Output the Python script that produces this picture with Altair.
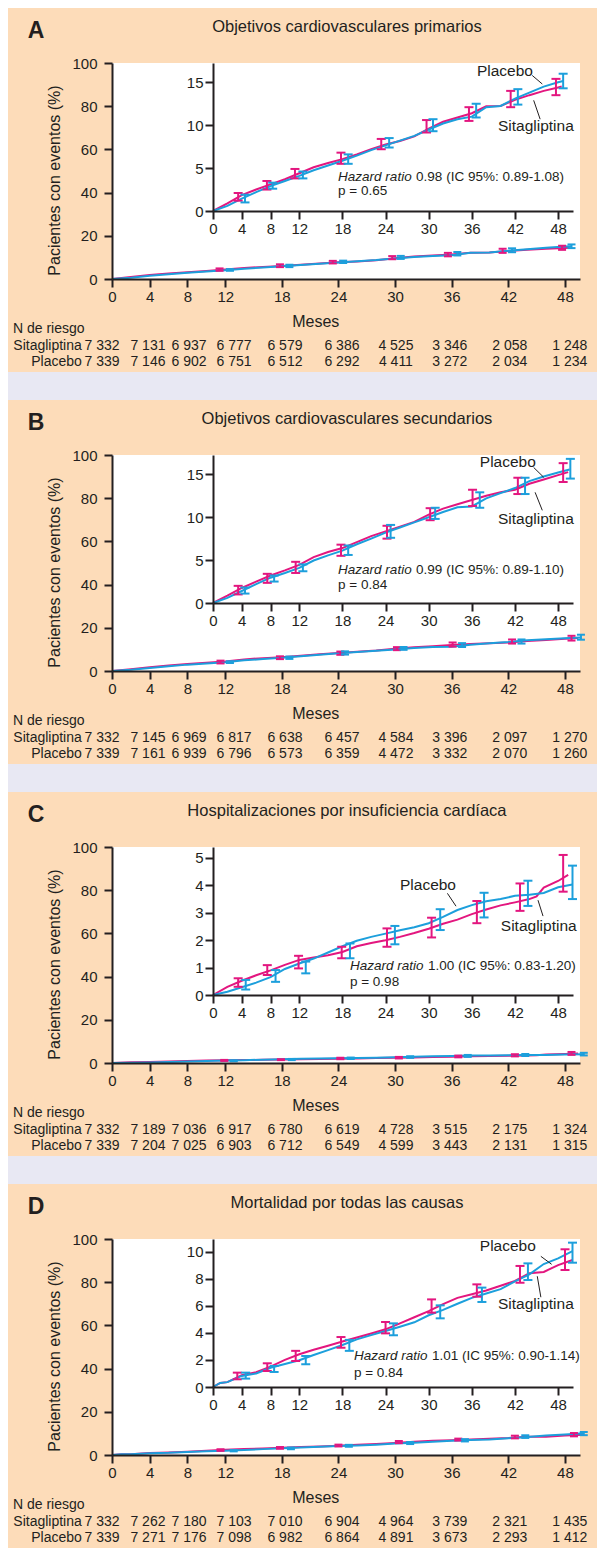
import altair as alt
import pandas as pd

PINK = "#e3167f"
BLUE = "#1c9fdc"
PEACH = "#fddcb9"
LAVENDER = "#e8e8f3"
INK = "#231f20"
FONT = "Liberation Sans"

MONTH_TICKS = [0, 4, 8, 12, 18, 24, 30, 36, 42, 48]
MAIN_Y_TICKS = [0, 20, 40, 60, 80, 100]
SERIES = ["Sitagliptina", "Placebo"]

# ---------------- Panel A ----------------
A_LETTER = "A"
A_TITLE = "Objetivos cardiovasculares primarios"
A_HR = "0.98 (IC 95%: 0.89-1.08)"
A_P = "p = 0.65"
A_SITA_M = [0, 2, 4, 6, 8, 10, 12, 14, 16, 18, 20, 22, 24, 26, 28, 30, 32, 34, 36, 38, 40, 42, 44, 46, 48, 48.5]
A_SITA_V = [0, 0.9, 1.85, 2.5, 3.1, 3.7, 4.4, 5.1, 5.6, 6.05, 6.6, 7.2, 7.75, 8.15, 8.7, 9.6, 10.4, 10.9, 11.4, 12.2, 12.25, 12.95, 13.5, 14.0, 14.4, 14.5]
A_PLAC_M = [0, 2, 4, 6, 8, 10, 12, 14, 16, 18, 20, 22, 24, 26, 28, 30, 32, 34, 36, 38, 40, 42, 44, 46, 48, 48.7]
A_PLAC_V = [0, 0.6, 1.45, 2.2, 2.9, 3.5, 4.1, 4.75, 5.3, 5.85, 6.45, 7.1, 7.65, 8.2, 8.75, 9.5, 10.2, 10.7, 11.0, 12.1, 12.25, 13.1, 13.8, 14.5, 15.0, 15.15]
A_SITA_BAR_M = [3.5, 7.5, 11.4, 17.8, 23.4, 29.7, 35.6, 41.4, 47.7]
A_SITA_LO = [1.2, 2.5, 3.8, 5.5, 7.2, 9.15, 10.5, 12.1, 13.5]
A_SITA_HI = [2.1, 3.5, 4.9, 6.8, 8.4, 10.6, 12.1, 14.0, 15.4]
A_PLAC_BAR_M = [4.45, 8.3, 12.5, 18.8, 24.5, 30.6, 36.6, 42.4, 48.7]
A_PLAC_LO = [1.0, 2.6, 3.8, 5.5, 7.4, 9.3, 10.9, 12.4, 14.3]
A_PLAC_HI = [1.9, 3.3, 4.6, 6.6, 8.5, 10.7, 12.5, 14.2, 16.0]
A_RISK_SITA = ["7 332", "7 131", "6 937", "6 777", "6 579", "6 386", "4 525", "3 346", "2 058", "1 248"]
A_RISK_PLAC = ["7 339", "7 146", "6 902", "6 751", "6 512", "6 292", "4 411", "3 272", "2 034", "1 234"]
A_INSET_TICKS = [0, 5, 10, 15]

# ---------------- Panel B ----------------
B_LETTER = "B"
B_TITLE = "Objetivos cardiovasculares secundarios"
B_HR = "0.99 (IC 95%: 0.89-1.10)"
B_P = "p = 0.84"
B_SITA_M = [0, 2, 4, 6, 8, 10, 12, 14, 16, 18, 20, 22, 24, 26, 28, 30, 32, 34, 36, 38, 40, 42, 44, 46, 48, 49.4]
B_SITA_V = [0, 0.85, 1.75, 2.5, 3.2, 3.8, 4.45, 5.35, 5.95, 6.4, 7.1, 7.8, 8.35, 8.9, 9.45, 10.3, 11.0, 11.5, 12.0, 12.5, 12.9, 13.2, 13.9, 14.4, 14.9, 15.25]
B_PLAC_M = [0, 2, 4, 6, 8, 10, 12, 14, 16, 18, 20, 22, 24, 26, 28, 30, 32, 34, 36, 38, 40, 42, 44, 46, 48, 49.6]
B_PLAC_V = [0, 0.6, 1.4, 2.2, 2.95, 3.5, 4.1, 4.95, 5.55, 6.1, 6.85, 7.5, 8.2, 8.8, 9.4, 10.0, 10.6, 11.15, 11.25, 12.2, 12.8, 13.4, 14.2, 14.75, 15.2, 15.55]
B_SITA_BAR_M = [3.5, 7.55, 11.5, 17.8, 24.2, 30.2, 36.1, 42.4, 48.7]
B_SITA_LO = [1.0, 2.35, 3.5, 5.5, 7.5, 9.65, 11.3, 12.7, 14.1]
B_SITA_HI = [2.0, 3.4, 4.8, 6.8, 9.0, 11.05, 13.2, 14.6, 16.3]
B_PLAC_BAR_M = [4.45, 8.5, 12.5, 18.8, 24.7, 30.9, 37.1, 43.4, 49.7]
B_PLAC_LO = [1.1, 2.5, 3.7, 5.6, 7.6, 9.8, 11.1, 12.7, 14.5]
B_PLAC_HI = [1.8, 3.2, 4.5, 6.7, 9.1, 11.1, 12.9, 14.6, 16.8]
B_RISK_SITA = ["7 332", "7 145", "6 969", "6 817", "6 638", "6 457", "4 584", "3 396", "2 097", "1 270"]
B_RISK_PLAC = ["7 339", "7 161", "6 939", "6 796", "6 573", "6 359", "4 472", "3 332", "2 070", "1 260"]
B_INSET_TICKS = [0, 5, 10, 15]

# ---------------- Panel C ----------------
C_LETTER = "C"
C_TITLE = "Hospitalizaciones por insuficiencia cardíaca"
C_HR = "1.00 (IC 95%: 0.83-1.20)"
C_P = "p = 0.98"
C_SITA_M = [0, 2, 4, 6, 8, 10, 12, 14, 16, 18, 20, 22, 24, 26, 28, 30, 32, 34, 36, 38, 40, 42, 44, 45, 46, 48, 49.4]
C_SITA_V = [0, 0.3, 0.52, 0.72, 0.9, 1.1, 1.28, 1.37, 1.45, 1.57, 1.78, 1.9, 2.0, 2.12, 2.26, 2.42, 2.6, 2.75, 2.95, 3.12, 3.27, 3.38, 3.5, 3.6, 3.92, 4.16, 4.38]
C_PLAC_M = [0, 2, 4, 6, 8, 10, 12, 14, 16, 18, 20, 22, 24, 26, 28, 30, 32, 34, 36, 38, 40, 42, 44, 46, 48, 50]
C_PLAC_V = [0, 0.12, 0.28, 0.45, 0.65, 0.95, 1.15, 1.33, 1.55, 1.78, 1.98, 2.12, 2.24, 2.36, 2.47, 2.62, 2.85, 3.1, 3.28, 3.42, 3.5, 3.62, 3.66, 3.72, 3.93, 4.03]
C_SITA_BAR_M = [3.5, 7.55, 11.9, 17.9, 24.2, 30.4, 36.7, 42.7, 48.7]
C_SITA_LO = [0.3, 0.73, 0.97, 1.34, 1.76, 2.1, 2.62, 3.07, 3.77]
C_SITA_HI = [0.61, 1.09, 1.43, 1.76, 2.43, 2.82, 3.43, 4.07, 5.11]
C_PLAC_BAR_M = [4.55, 8.7, 12.9, 19.05, 25.3, 31.6, 37.7, 43.8, 50.0]
C_PLAC_LO = [0.2, 0.48, 0.79, 1.34, 1.85, 2.37, 2.83, 3.25, 3.5]
C_PLAC_HI = [0.55, 0.91, 1.22, 1.88, 2.52, 3.13, 3.73, 4.17, 4.72]
C_RISK_SITA = ["7 332", "7 189", "7 036", "6 917", "6 780", "6 619", "4 728", "3 515", "2 175", "1 324"]
C_RISK_PLAC = ["7 339", "7 204", "7 025", "6 903", "6 712", "6 549", "4 599", "3 443", "2 131", "1 315"]
C_INSET_TICKS = [0, 1, 2, 3, 4, 5]

# ---------------- Panel D ----------------
D_LETTER = "D"
D_TITLE = "Mortalidad por todas las causas"
D_HR = "1.01 (IC 95%: 0.90-1.14)"
D_P = "p = 0.84"
D_SITA_M = [0, 1, 2, 4, 6, 8, 10, 12, 14, 16, 18, 20, 22, 24, 26, 28, 30, 32, 34, 36, 38, 40, 42, 44, 46, 48, 50]
D_SITA_V = [0, 0.3, 0.36, 0.88, 1.1, 1.5, 2.0, 2.42, 2.75, 3.05, 3.36, 3.66, 3.95, 4.26, 4.7, 5.15, 5.6, 6.12, 6.58, 6.85, 7.13, 7.48, 7.83, 8.4, 8.5, 9.0, 9.38]
D_PLAC_M = [0, 1, 2, 4, 6, 8, 10, 12, 14, 16, 18, 20, 22, 24, 26, 28, 30, 32, 34, 36, 38, 40, 42, 44, 46, 48, 50]
D_PLAC_V = [0, 0.3, 0.36, 0.82, 1.0, 1.42, 1.7, 1.98, 2.36, 2.72, 3.1, 3.52, 3.83, 4.14, 4.45, 4.78, 5.3, 5.7, 6.15, 6.58, 6.9, 7.23, 7.8, 8.32, 9.08, 9.5, 10.03]
D_SITA_BAR_M = [3.38, 7.55, 11.5, 17.8, 24.0, 30.4, 36.7, 42.7, 48.96]
D_SITA_LO = [0.57, 1.18, 1.92, 2.9, 3.96, 5.49, 6.67, 7.7, 8.64]
D_SITA_HI = [1.06, 1.75, 2.67, 3.69, 4.8, 6.47, 7.58, 8.94, 10.17]
D_PLAC_BAR_M = [4.55, 8.5, 12.9, 18.96, 25.1, 31.6, 37.4, 43.8, 50.0]
D_PLAC_LO = [0.62, 1.11, 1.68, 2.67, 3.82, 5.07, 6.28, 7.9, 9.18]
D_PLAC_HI = [1.06, 1.55, 2.29, 3.48, 4.7, 6.03, 7.34, 9.13, 10.66]
D_RISK_SITA = ["7 332", "7 262", "7 180", "7 103", "7 010", "6 904", "4 964", "3 739", "2 321", "1 435"]
D_RISK_PLAC = ["7 339", "7 271", "7 176", "7 098", "6 982", "6 864", "4 891", "3 673", "2 293", "1 412"]
D_INSET_TICKS = [0, 2, 4, 6, 8, 10]

# ---------------- layout (pixels inside each panel) ----------------
PANEL_W, PANEL_H = 589, 364
MAIN_X_MAX = 49.6
INSET_X_MAX = 50.07
MAIN_X_RANGE = [104, 572]
MAIN_Y_RANGE = [271, 55]
INSET_X_RANGE = [205, 565]
INSET_Y_RANGE = [203, 55]
# typeset column anchors of the number-at-risk table, on the month axis
RISK_COL_POS = [-1.06, 3.81, 8.16, 12.93, 18.33, 24.37, 30.09, 35.81, 42.16, 48.52]

# annotation anchors, in inset data units
ANN = {
    "A": dict(ymax=17.25, plac=(40.6, 16.3), sita=(44.9, 9.9),
              plac_lead=(44.4, 15.8, 45.8, 14.8), sita_lead=(44.6, 12.9, 45.5, 10.7),
              hr=(17.4, 3.95), p=2.3),
    "B": dict(ymax=17.25, plac=(41.0, 16.4), sita=(44.9, 9.77),
              plac_lead=(44.6, 15.8, 46.0, 14.65), sita_lead=(44.8, 12.9, 45.8, 10.8),
              hr=(17.4, 3.9), p=2.15),
    "C": dict(ymax=5.4, plac=(29.9, 4.0), sita=(45.3, 2.5),
              plac_lead=(32.6, 3.71, 33.8, 3.24), sita_lead=(45.2, 3.46, 45.9, 2.88),
              hr=(19.05, 1.05), p=0.46),
    "D": dict(ymax=10.93, plac=(41.0, 10.4), sita=(44.9, 6.1),
              plac_lead=(45.6, 9.65, 47.1, 9.06), sita_lead=(45.1, 8.18, 45.6, 6.63),
              hr=(19.6, 2.27), p=1.01),
}


def axis(orient, offset, values, pad):
    return alt.Axis(orient=orient, offset=offset, values=values, labelPadding=pad,
                    domainColor=INK, domainWidth=2, tickColor=INK, tickWidth=2, tickSize=8,
                    labelFont=FONT, labelFontSize=15, labelColor=INK, grid=False,
                    title="", zindex=2, labelFlush=False, labelOverlap=False)


def txt(df, **kw):
    base = dict(font=FONT, color=INK, baseline="middle")
    base.update(kw)
    return alt.Chart(df).mark_text(**base)


def build_panel(key, letter, title, hr, pval, sm, sv, pm, pv,
                sbm, slo, shi, pbm, plo, phi, risk_s, risk_p, iticks):
    a = ANN[key]
    curves = pd.DataFrame({
        "m": sm + pm, "v": sv + pv,
        "g": [SERIES[0]] * len(sm) + [SERIES[1]] * len(pm),
    })
    bars = pd.DataFrame({
        "m": sbm + pbm, "lo": slo + plo, "hi": shi + phi,
        "g": [SERIES[0]] * len(sbm) + [SERIES[1]] * len(pbm),
    })
    main_bars = bars[bars["m"] >= 11]
    color = alt.Color("g:N", scale=alt.Scale(domain=SERIES, range=[PINK, BLUE]), legend=None)

    def mx():
        return alt.Scale(domain=[0, MAIN_X_MAX], range=MAIN_X_RANGE, nice=False, zero=False)

    def my():
        return alt.Scale(domain=[0, 100], range=MAIN_Y_RANGE, nice=False, zero=False)

    def ix():
        return alt.Scale(domain=[0, INSET_X_MAX], range=INSET_X_RANGE, nice=False, zero=False)

    def iy():
        return alt.Scale(domain=[0, a["ymax"]], range=INSET_Y_RANGE, nice=False, zero=False)

    def X(f, s, ax=None):
        return alt.X(f, scale=s, axis=ax)

    def Y(f, s, ax=None):
        return alt.Y(f, scale=s, axis=ax)

    layers = []
    # ---------- main plot ----------
    layers.append(alt.Chart(pd.DataFrame({"x0": [0], "x1": [MAIN_X_MAX], "y0": [0], "y1": [100]}))
                  .mark_rect(color="white")
                  .encode(x=X("x0:Q", mx()), x2="x1:Q", y=Y("y0:Q", my()), y2="y1:Q"))
    layers.append(alt.Chart(curves).mark_line(strokeWidth=2).encode(
        x=X("m:Q", mx(), axis("bottom", -(PANEL_H - MAIN_Y_RANGE[0]), MONTH_TICKS, 2)),
        y=Y("v:Q", my(), axis("left", -MAIN_X_RANGE[0], MAIN_Y_TICKS, 7)),
        color=color))
    layers.append(alt.Chart(main_bars).mark_rule(strokeWidth=2).encode(
        x=X("m:Q", mx()), y=Y("lo:Q", my()), y2="hi:Q", color=color))
    for f in ("lo:Q", "hi:Q"):
        layers.append(alt.Chart(main_bars).mark_tick(orient="horizontal", size=8, thickness=2, opacity=1)
                      .encode(x=X("m:Q", mx()), y=Y(f, my()), color=color))

    def main_text(m, v, t, **kw):
        return txt(pd.DataFrame({"m": [m], "v": [v], "t": [t]}), **kw).encode(
            x=X("m:Q", mx()), y=Y("v:Q", my()), text="t:N")

    layers.append(main_text(-8.05, 114.8, letter, fontSize=23, fontWeight="bold", align="center"))
    layers.append(main_text(24.9, 116.7, title, fontSize=16.5, align="center"))
    layers.append(main_text(-6.04, 45.6, "Pacientes con eventos (%)", fontSize=16, align="center", angle=270))
    layers.append(main_text(21.6, -19.9, "Meses", fontSize=16, align="center"))

    # ---------- inset ----------
    layers.append(alt.Chart(curves).mark_line(strokeWidth=2).encode(
        x=X("m:Q", ix(), axis("bottom", -(PANEL_H - INSET_Y_RANGE[0]), MONTH_TICKS, 2)),
        y=Y("v:Q", iy(), axis("left", -INSET_X_RANGE[0], iticks, 2)),
        color=color))
    layers.append(alt.Chart(bars).mark_rule(strokeWidth=2).encode(
        x=X("m:Q", ix()), y=Y("lo:Q", iy()), y2="hi:Q", color=color))
    for f in ("lo:Q", "hi:Q"):
        layers.append(alt.Chart(bars).mark_tick(orient="horizontal", size=9, thickness=2, opacity=1)
                      .encode(x=X("m:Q", ix()), y=Y(f, iy()), color=color))
    leads = pd.DataFrame({
        "m1": [a["plac_lead"][0], a["sita_lead"][0]], "v1": [a["plac_lead"][1], a["sita_lead"][1]],
        "m2": [a["plac_lead"][2], a["sita_lead"][2]], "v2": [a["plac_lead"][3], a["sita_lead"][3]],
    })
    layers.append(alt.Chart(leads).mark_rule(color=INK, strokeWidth=1).encode(
        x=X("m1:Q", ix()), x2="m2:Q", y=Y("v1:Q", iy()), y2="v2:Q"))
    labs = pd.DataFrame({"m": [a["plac"][0], a["sita"][0]], "v": [a["plac"][1], a["sita"][1]],
                         "t": ["Placebo", "Sitagliptina"]})
    layers.append(txt(labs, fontSize=15.5, align="center").encode(
        x=X("m:Q", ix()), y=Y("v:Q", iy()), text="t:N"))
    hr_df = pd.DataFrame({"m": [a["hr"][0]], "v": [a["hr"][1]], "t": ["Hazard ratio"], "r": [hr]})
    layers.append(txt(hr_df, fontSize=13.5, align="left", fontStyle="italic").encode(
        x=X("m:Q", ix()), y=Y("v:Q", iy()), text="t:N"))
    layers.append(txt(hr_df, fontSize=13.5, align="left", dx=78).encode(
        x=X("m:Q", ix()), y=Y("v:Q", iy()), text="r:N"))
    layers.append(txt(pd.DataFrame({"m": [a["hr"][0]], "v": [a["p"]], "t": [pval]}),
                      fontSize=13.5, align="left").encode(
        x=X("m:Q", ix()), y=Y("v:Q", iy()), text="t:N"))

    # ---------- number at risk table ----------
    rows = ["N de riesgo"] + SERIES

    def ty():
        return alt.Scale(type="point", domain=rows, range=[321, 354], padding=0)

    risk = pd.DataFrame({"m": RISK_COL_POS * 2,
                         "row": [SERIES[0]] * len(risk_s) + [SERIES[1]] * len(risk_p),
                         "t": risk_s + risk_p})
    layers.append(txt(risk, fontSize=14, align="center").encode(
        x=X("m:Q", mx()), y=Y("row:N", ty()), text="t:N"))
    layers.append(txt(pd.DataFrame({"m": [-3.2, -3.2], "row": SERIES}), fontSize=14, align="right").encode(
        x=X("m:Q", mx()), y=Y("row:N", ty()), text="row:N"))
    layers.append(txt(pd.DataFrame({"m": [-10.5], "row": ["N de riesgo"]}), fontSize=14, align="left").encode(
        x=X("m:Q", mx()), y=Y("row:N", ty()), text="row:N"))

    return alt.layer(*layers).resolve_scale(
        x="independent", y="independent").properties(width=PANEL_W, height=PANEL_H)


pA = build_panel("A", A_LETTER, A_TITLE, A_HR, A_P, A_SITA_M, A_SITA_V, A_PLAC_M, A_PLAC_V,
                 A_SITA_BAR_M, A_SITA_LO, A_SITA_HI, A_PLAC_BAR_M, A_PLAC_LO, A_PLAC_HI,
                 A_RISK_SITA, A_RISK_PLAC, A_INSET_TICKS)
pB = build_panel("B", B_LETTER, B_TITLE, B_HR, B_P, B_SITA_M, B_SITA_V, B_PLAC_M, B_PLAC_V,
                 B_SITA_BAR_M, B_SITA_LO, B_SITA_HI, B_PLAC_BAR_M, B_PLAC_LO, B_PLAC_HI,
                 B_RISK_SITA, B_RISK_PLAC, B_INSET_TICKS)
pC = build_panel("C", C_LETTER, C_TITLE, C_HR, C_P, C_SITA_M, C_SITA_V, C_PLAC_M, C_PLAC_V,
                 C_SITA_BAR_M, C_SITA_LO, C_SITA_HI, C_PLAC_BAR_M, C_PLAC_LO, C_PLAC_HI,
                 C_RISK_SITA, C_RISK_PLAC, C_INSET_TICKS)
pD = build_panel("D", D_LETTER, D_TITLE, D_HR, D_P, D_SITA_M, D_SITA_V, D_PLAC_M, D_PLAC_V,
                 D_SITA_BAR_M, D_SITA_LO, D_SITA_HI, D_PLAC_BAR_M, D_PLAC_LO, D_PLAC_HI,
                 D_RISK_SITA, D_RISK_PLAC, D_INSET_TICKS)

chart = alt.vconcat(pA, pB, pC, pD, spacing=28).properties(
    padding=0, background=LAVENDER
).configure_view(fill=PEACH, strokeWidth=0)

chart.save("out.html", embed_options={"renderer": "svg", "actions": False})
